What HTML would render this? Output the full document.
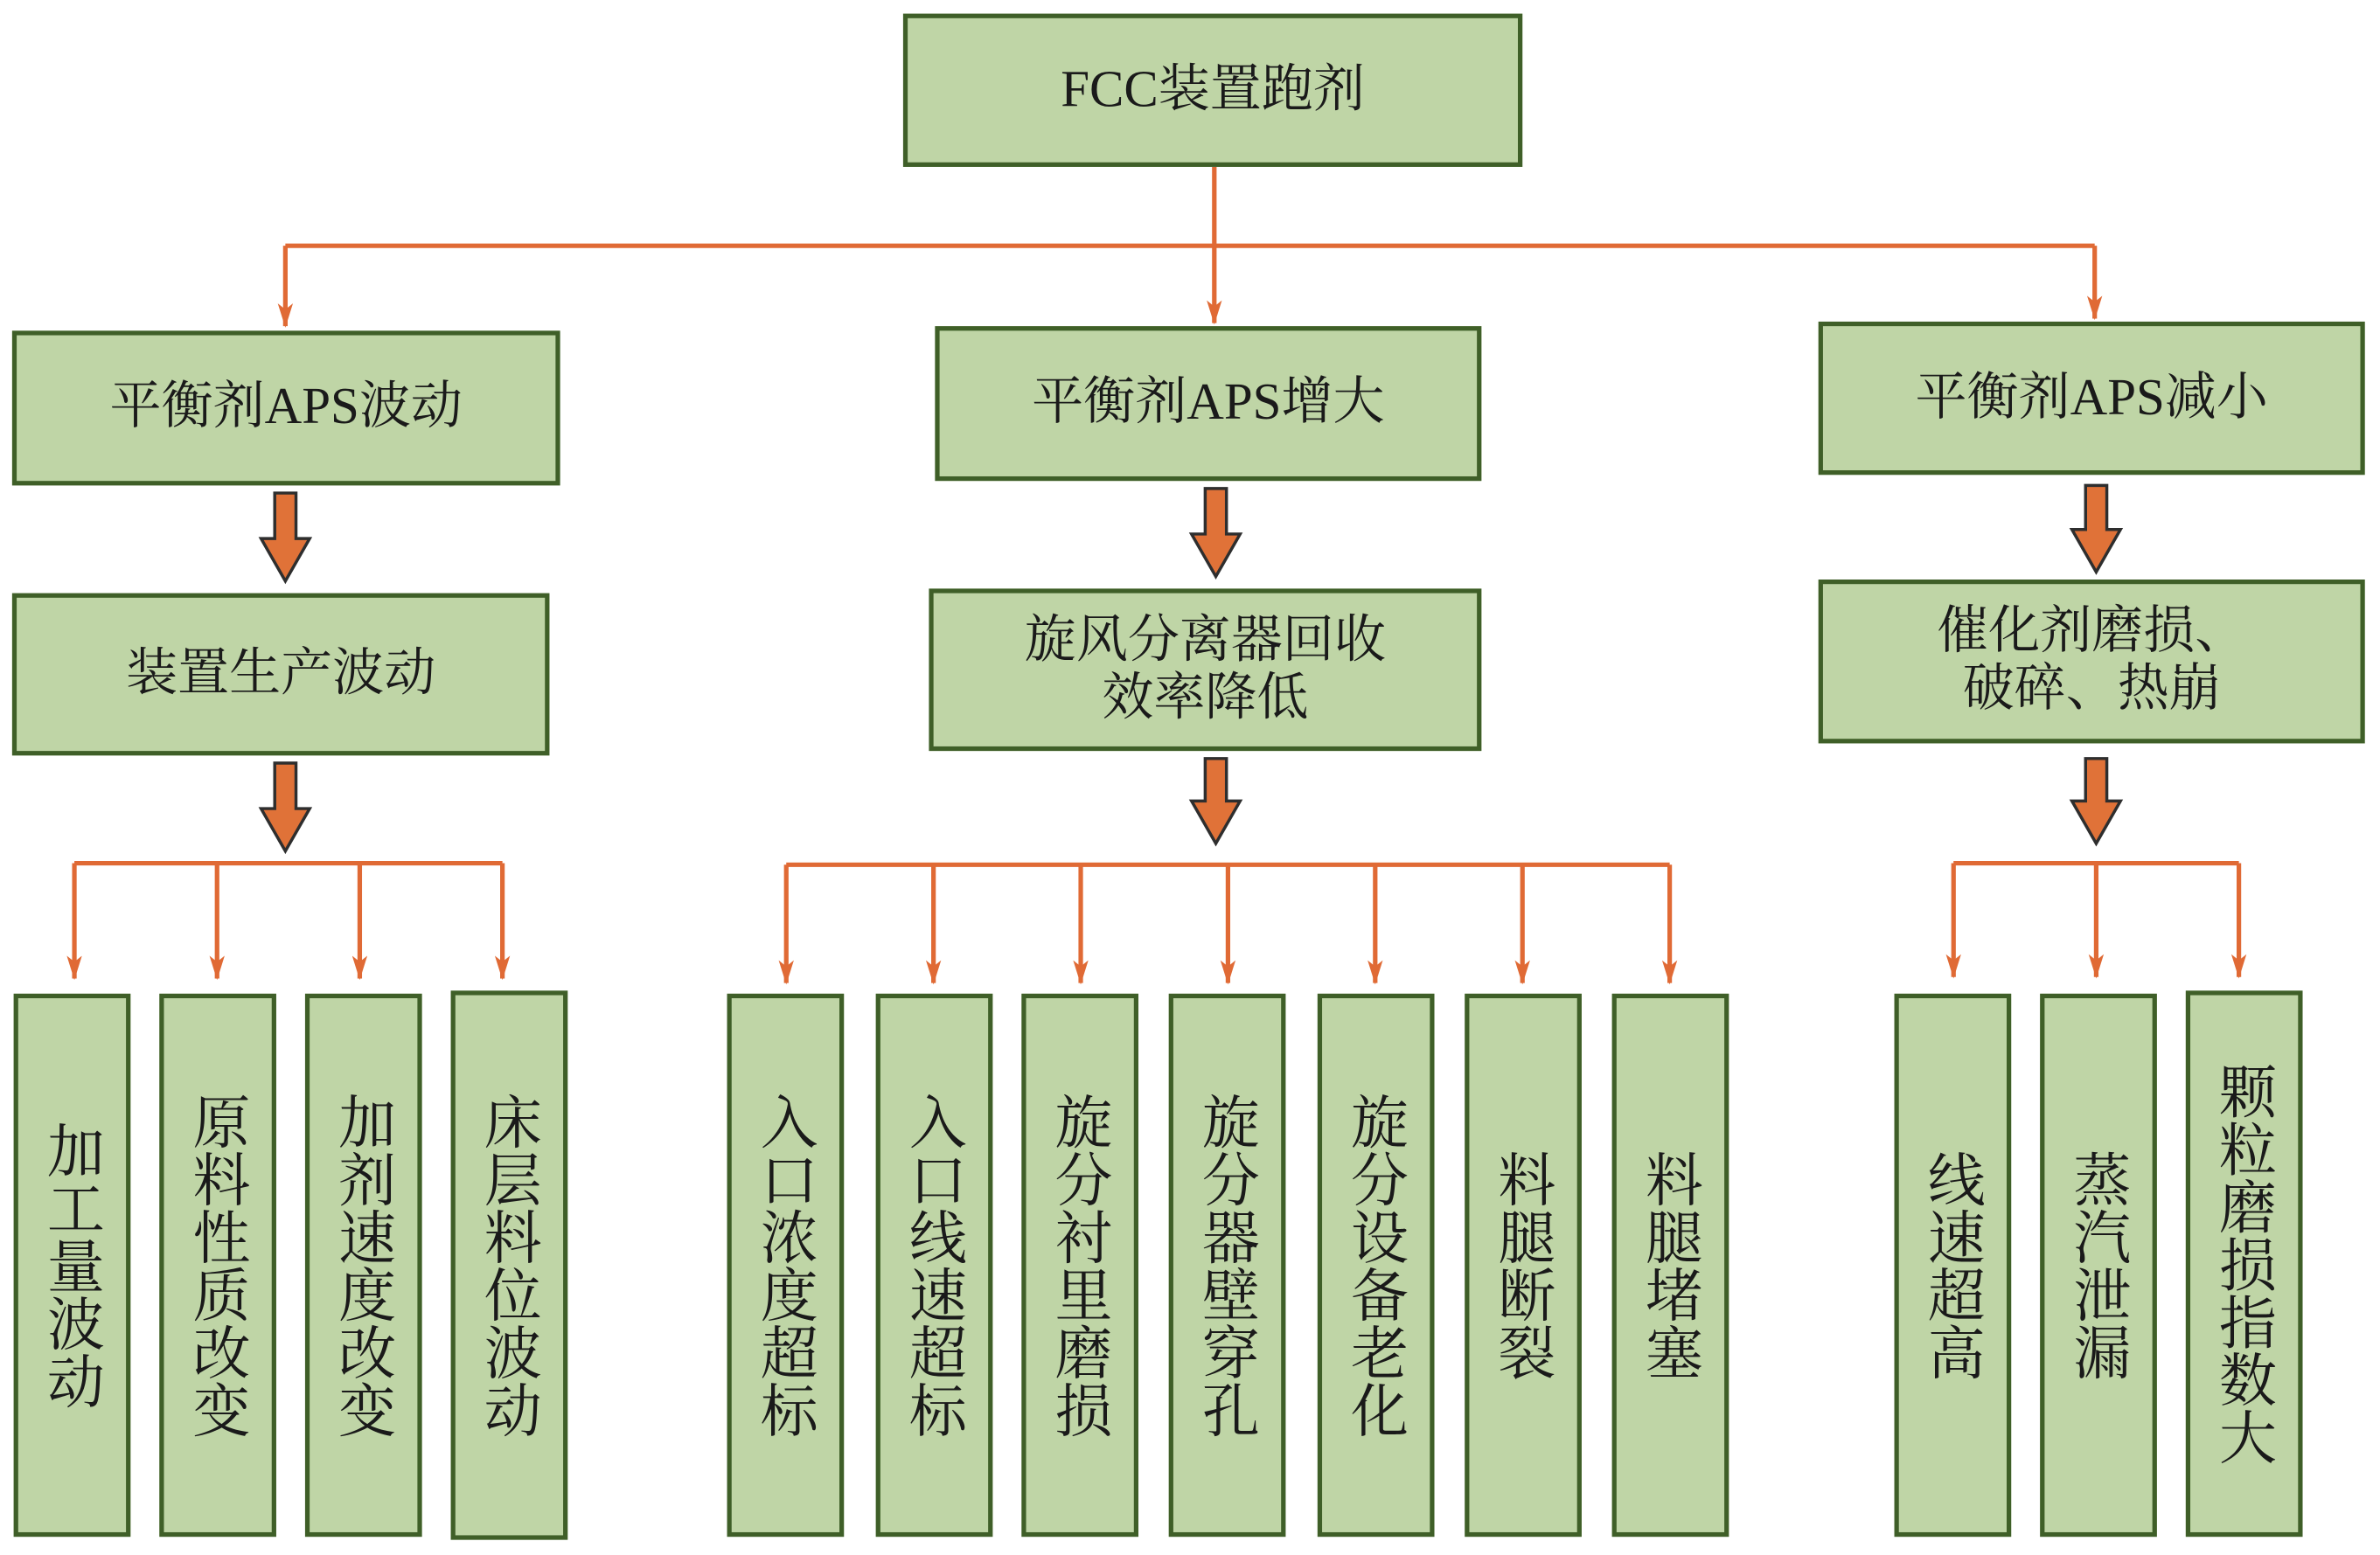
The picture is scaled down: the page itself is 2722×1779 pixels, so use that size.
<!DOCTYPE html>
<html><head><meta charset="utf-8"><style>
html,body{margin:0;padding:0;background:#fff;}
#wrap{width:1568px;height:1025px;position:relative;transform:scale(1.7360,1.7356);transform-origin:0 0;}
.b{position:absolute;box-sizing:border-box;background:#bfd5a6;border:3px solid #3f5f28;display:flex;align-items:center;justify-content:center;text-align:center;font-family:"Liberation Serif","Noto Serif CJK SC",serif;color:#1a1a1a;}
.h{font-size:34px;line-height:38px;}
.v{font-size:38px;writing-mode:vertical-rl;text-orientation:upright;line-height:38px;padding-right:4px;}
svg{position:absolute;left:0;top:0;}
</style></head><body><div id="wrap">
<svg width="1568" height="1025" viewBox="0 0 1568 1025">
<defs><marker id="a" markerWidth="16" markerHeight="10" refX="15" refY="5" orient="auto" markerUnits="userSpaceOnUse" viewBox="0 0 16 10"><path d="M0,0 L16,5 L0,10 L4,5 Z" fill="#e06a35"/></marker></defs>
<g stroke="#e06a35" stroke-width="3" fill="none">
<path d="M800,110 V162 M188,162 H1380"/>
<path d="M188,162 V215" marker-end="url(#a)"/>
<path d="M800,162 V213" marker-end="url(#a)"/>
<path d="M1380,162 V210" marker-end="url(#a)"/>
<path d="M49,569 H331 M518,570 H1100 M1287,569 H1475"/>
<path d="M49,569 V645" marker-end="url(#a)"/><path d="M143,569 V645" marker-end="url(#a)"/>
<path d="M237,569 V645" marker-end="url(#a)"/><path d="M331,569 V645" marker-end="url(#a)"/>
<path d="M518,570 V648" marker-end="url(#a)"/><path d="M615,570 V648" marker-end="url(#a)"/>
<path d="M712,570 V648" marker-end="url(#a)"/><path d="M809,570 V648" marker-end="url(#a)"/>
<path d="M906,570 V648" marker-end="url(#a)"/><path d="M1003,570 V648" marker-end="url(#a)"/>
<path d="M1100,570 V648" marker-end="url(#a)"/>
<path d="M1287,569 V644" marker-end="url(#a)"/><path d="M1381,569 V644" marker-end="url(#a)"/>
<path d="M1475,569 V644" marker-end="url(#a)"/>
</g>
<g fill="#e07238" stroke="#2e2e2e" stroke-width="2" stroke-linejoin="miter">
<path d="M181,325 H195 V355 H204 L188,383 L172,355 H181 Z"/>
<path d="M794,322 H808 V352 H817 L801,380 L785,352 H794 Z"/>
<path d="M1374,320 H1388 V349 H1397 L1381,377 L1365,349 H1374 Z"/>
<path d="M181,503 H195 V533 H204 L188,561 L172,533 H181 Z"/>
<path d="M794,500 H808 V528 H817 L801,556 L785,528 H794 Z"/>
<path d="M1374,500 H1388 V528 H1397 L1381,556 L1365,528 H1374 Z"/>
</g>
</svg>
<div class="b h" style="left:595px;top:9px;width:408px;height:101px;">FCC装置跑剂</div>
<div class="b h" style="left:8px;top:218px;width:361px;height:102px;">平衡剂APS波动</div>
<div class="b h" style="left:616px;top:215px;width:360px;height:102px;">平衡剂APS增大</div>
<div class="b h" style="left:1198px;top:212px;width:360px;height:101px;">平衡剂APS减小</div>
<div class="b h" style="left:8px;top:391px;width:354px;height:107px;">装置生产波动</div>
<div class="b h" style="left:612px;top:388px;width:364px;height:107px;">旋风分离器回收<br>效率降低</div>
<div class="b h" style="left:1198px;top:382px;width:360px;height:108px;">催化剂磨损、<br>破碎、热崩</div>
<div class="b v" style="left:9px;top:655px;width:77px;height:358px;">加工量波动</div>
<div class="b v" style="left:105px;top:655px;width:77px;height:358px;">原料性质改变</div>
<div class="b v" style="left:201px;top:655px;width:77px;height:358px;">加剂速度改变</div>
<div class="b v" style="left:297px;top:653px;width:77px;height:362px;">床层料位波动</div>
<div class="b v" style="left:479px;top:655px;width:77px;height:358px;">入口浓度超标</div>
<div class="b v" style="left:577px;top:655px;width:77px;height:358px;">入口线速超标</div>
<div class="b v" style="left:673px;top:655px;width:77px;height:358px;">旋分衬里磨损</div>
<div class="b v" style="left:770px;top:655px;width:77px;height:358px;">旋分器壁穿孔</div>
<div class="b v" style="left:868px;top:655px;width:77px;height:358px;">旋分设备老化</div>
<div class="b v" style="left:965px;top:655px;width:77px;height:358px;">料腿断裂</div>
<div class="b v" style="left:1062px;top:655px;width:77px;height:358px;">料腿堵塞</div>
<div class="b v" style="left:1248px;top:655px;width:77px;height:358px;">线速超高</div>
<div class="b v" style="left:1344px;top:655px;width:77px;height:358px;">蒸汽泄漏</div>
<div class="b v" style="left:1440px;top:653px;width:77px;height:360px;">颗粒磨损指数大</div>
</div></body></html>
